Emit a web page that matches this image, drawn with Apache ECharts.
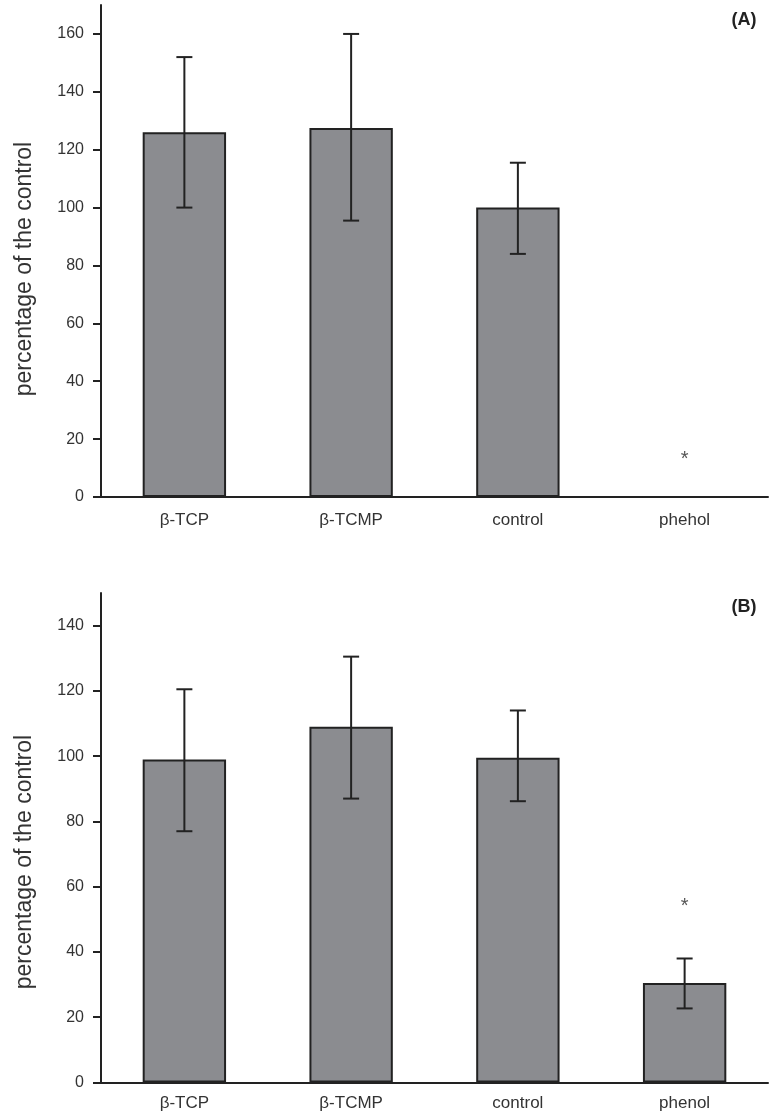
<!DOCTYPE html>
<html>
<head>
<meta charset="utf-8">
<script src="https://cdn.jsdelivr.net/npm/echarts@6/dist/echarts.min.js"></script>
<style>
html,body{margin:0;padding:0;background:#fff;}
#chart{width:771px;height:1114px;}
</style>
</head>
<body>
<div id="chart"></div>
<script>
// ---- data ----
const categoriesA = ['β-TCP', 'β-TCMP', 'control', 'phehol'];
const categoriesB = ['β-TCP', 'β-TCMP', 'control', 'phenol'];
const meanA = [126, 127.5, 100, 0];
const errLowA = [100, 95.5, 84, null];
const errHighA = [152, 160, 115.5, null];
const starA = [null, null, null, 13];
const meanB = [99, 109, 99.5, 30.5];
const errLowB = [77, 87, 86.2, 22.7];
const errHighB = [120.5, 130.5, 114, 38];
const starB = [null, null, null, 54];
const ticksA = [0, 20, 40, 60, 80, 100, 120, 140, 160];
const ticksB = [0, 20, 40, 60, 80, 100, 120, 140];
const axisMaxA = 170;
const axisMaxB = 150;
const panelLabels = ['(A)', '(B)'];
const yName = 'percentage of the control';

const FONT = '"Liberation Sans", Arial, sans-serif';
const DARK = '#222';
const TXT = '#333';

function errData(lo, hi) {
  const out = [];
  for (let i = 0; i < lo.length; i++) if (lo[i] != null) out.push([i, lo[i], hi[i]]);
  return out;
}
function starData(s) {
  const out = [];
  for (let i = 0; i < s.length; i++) if (s[i] != null) out.push([i, s[i]]);
  return out;
}
function errRender(params, api) {
  const x = api.value(0);
  const p1 = api.coord([x, api.value(1)]);
  const p2 = api.coord([x, api.value(2)]);
  const cap = 8;
  const style = { stroke: DARK, lineWidth: 2 };
  return {
    type: 'group',
    children: [
      { type: 'line', shape: { x1: p1[0], y1: p1[1], x2: p2[0], y2: p2[1] }, style },
      { type: 'line', shape: { x1: p1[0] - cap, y1: p1[1], x2: p1[0] + cap, y2: p1[1] }, style },
      { type: 'line', shape: { x1: p2[0] - cap, y1: p2[1], x2: p2[0] + cap, y2: p2[1] }, style }
    ]
  };
}
function starRender(params, api) {
  const p = api.coord([api.value(0), api.value(1)]);
  return {
    type: 'text',
    style: { text: '*', x: p[0], y: p[1], align: 'center', verticalAlign: 'middle',
      font: '20px ' + FONT, fill: '#555' }
  };
}
function xAxisCfg(cats, gi, margin) {
  return {
    type: 'category', gridIndex: gi, data: cats,
    axisLine: { lineStyle: { color: DARK, width: 2 } },
    axisTick: { alignWithLabel: true, length: 8, lineStyle: { color: DARK, width: 2 } },
    axisLabel: { color: TXT, fontSize: 17, fontFamily: FONT, margin: margin }
  };
}
function yAxisCfg(ticks, max, gi) {
  return {
    type: 'value', gridIndex: gi, min: 0, max: max,
    splitLine: { show: false },
    axisLine: { show: true, lineStyle: { color: DARK, width: 2 } },
    axisTick: { show: true, length: 8, customValues: ticks, lineStyle: { color: DARK, width: 2 } },
    axisLabel: { color: TXT, fontSize: 16, fontFamily: FONT, margin: 17, customValues: ticks }
  };
}

const chart = echarts.init(document.getElementById('chart'), null, { renderer: 'canvas' });
chart.setOption({
  backgroundColor: '#fff',
  animation: false,
  grid: [
    { left: 101, right: 3, top: 5, height: 492 },
    { left: 101, right: 3, top: 593, height: 489.5 }
  ],
  xAxis: [xAxisCfg(categoriesA, 0, 15), xAxisCfg(categoriesB, 1, 12)],
  yAxis: [yAxisCfg(ticksA, axisMaxA, 0), yAxisCfg(ticksB, axisMaxB, 1)],
  graphic: [
    { type: 'text', x: 25, y: 269, rotation: Math.PI / 2,
      style: { text: yName, font: '23px ' + FONT, fill: TXT, align: 'center', verticalAlign: 'middle' } },
    { type: 'text', x: 25, y: 862, rotation: Math.PI / 2,
      style: { text: yName, font: '23px ' + FONT, fill: TXT, align: 'center', verticalAlign: 'middle' } },
    { type: 'text', x: 744, y: 20,
      style: { text: panelLabels[0], font: 'bold 18px ' + FONT, fill: DARK, align: 'center', verticalAlign: 'middle' } },
    { type: 'text', x: 744, y: 607,
      style: { text: panelLabels[1], font: 'bold 18px ' + FONT, fill: DARK, align: 'center', verticalAlign: 'middle' } }
  ],
  series: [
    { type: 'bar', xAxisIndex: 0, yAxisIndex: 0, data: meanA, barWidth: '50%',
      itemStyle: { color: '#8b8c90', borderColor: DARK, borderWidth: 2 } },
    { type: 'custom', xAxisIndex: 0, yAxisIndex: 0, data: errData(errLowA, errHighA), renderItem: errRender, z: 5 },
    { type: 'custom', xAxisIndex: 0, yAxisIndex: 0, data: starData(starA), renderItem: starRender, z: 5 },
    { type: 'bar', xAxisIndex: 1, yAxisIndex: 1, data: meanB, barWidth: '50%',
      itemStyle: { color: '#8b8c90', borderColor: DARK, borderWidth: 2 } },
    { type: 'custom', xAxisIndex: 1, yAxisIndex: 1, data: errData(errLowB, errHighB), renderItem: errRender, z: 5 },
    { type: 'custom', xAxisIndex: 1, yAxisIndex: 1, data: starData(starB), renderItem: starRender, z: 5 }
  ]
});
</script>
</body>
</html>
